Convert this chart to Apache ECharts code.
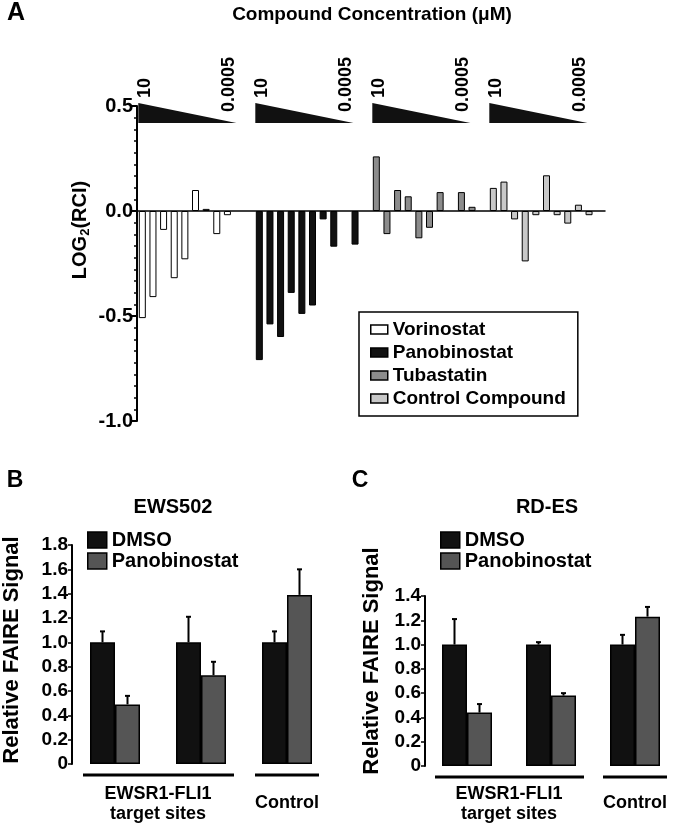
<!DOCTYPE html>
<html>
<head>
<meta charset="utf-8">
<script src="https://cdn.jsdelivr.net/npm/echarts@6/dist/echarts.min.js"></script>
<style>
  html, body { margin: 0; padding: 0; background: #fff; }
  #main { width: 677px; height: 829px; }
</style>
</head>
<body>
<div id="main"></div>
<script>
// ---- panel A: LOG2(RCI), 10 doses per compound (10 uM down to 0.0005 uM, 3-fold steps)
var doses = ['10', '3.3', '1.1', '0.37', '0.12', '0.041', '0.014', '0.0046', '0.0015', '0.0005'];
var compounds = ['Vorinostat', 'Panobinostat', 'Tubastatin', 'Control Compound'];
var vorinostat = [-0.51, -0.41, -0.09, -0.32, -0.23, 0.10, 0.01, -0.11, -0.02, null];
var panobinostat = [-0.71, -0.54, -0.60, -0.39, -0.49, -0.45, -0.04, -0.17, null, -0.16];
var tubastatin = [0.26, -0.11, 0.10, 0.07, -0.13, -0.08, 0.09, null, 0.09, 0.02];
var controlCompound = [0.11, 0.14, -0.04, -0.24, -0.02, 0.17, -0.02, -0.06, 0.03, -0.02];
var ticksA = ['-1.0', '-0.5', '0.0', '0.5'];

// ---- panels B and C: relative FAIRE signal
var sites = ['EWSR1-FLI1 site 1', 'EWSR1-FLI1 site 2', 'Control'];
var dmsoB = [1.0, 1.0, 1.0];
var dmsoErrB = [0.09, 0.21, 0.09];
var panoB = [0.49, 0.73, 1.39];
var panoErrB = [0.07, 0.11, 0.21];
var ticksB = ['0', '0.2', '0.4', '0.6', '0.8', '1.0', '1.2', '1.4', '1.6', '1.8'];

var dmsoC = [1.0, 1.0, 1.0];
var dmsoErrC = [0.21, 0.02, 0.08];
var panoC = [0.44, 0.58, 1.23];
var panoErrC = [0.07, 0.02, 0.08];
var ticksC = ['0', '0.2', '0.4', '0.6', '0.8', '1.0', '1.2', '1.4'];

var FONT = 'Liberation Sans';
var colorsA = ['#ffffff', '#111111', '#8c8c8c', '#c8c8c8'];
var DMSO_COLOR = '#111111';
var PANO_COLOR = '#555555';
var SLOTS = 11; // 10 doses + 1 gap per compound

var myChart = echarts.init(document.getElementById('main'));

// categories of panel A
var catsA = [];
compounds.forEach(function (c) {
    doses.forEach(function (d) { catsA.push(c + ' ' + d); });
    catsA.push(c + ' gap');
});

var valuesA = [vorinostat, panobinostat, tubastatin, controlCompound];
var seriesA = compounds.map(function (name, g) {
    var data = [];
    for (var i = 0; i < catsA.length; i++) data.push(null);
    valuesA[g].forEach(function (v, k) { data[g * SLOTS + k] = v; });
    return {
        name: name,
        type: 'bar',
        xAxisIndex: 0,
        yAxisIndex: 0,
        barWidth: 7,
        barGap: '-100%',
        data: data,
        itemStyle: { color: colorsA[g], borderColor: '#000', borderWidth: 1 }
    };
});

function errRender(offset) {
    return function (params, api) {
        var base = api.coord([api.value(0), api.value(1)]);
        var top = api.coord([api.value(0), api.value(1) + api.value(2)]);
        var x = base[0] + offset;
        return {
            type: 'group',
            children: [
                { type: 'line', shape: { x1: x, y1: base[1], x2: x, y2: top[1] }, style: { stroke: '#000', lineWidth: 2 } },
                { type: 'line', shape: { x1: x - 2.5, y1: top[1], x2: x + 2.5, y2: top[1] }, style: { stroke: '#000', lineWidth: 2 } }
            ]
        };
    };
}

function errData(vals, errs) {
    return vals.map(function (v, i) { return [i, v, errs[i]]; });
}

var BW = 25;
function panelSeries(idx, dmso, dmsoErr, pano, panoErr) {
    return [
        { name: 'DMSO', type: 'bar', xAxisIndex: idx, yAxisIndex: idx, barWidth: BW, barGap: '0%', data: dmso,
          itemStyle: { color: DMSO_COLOR, borderColor: '#000', borderWidth: 1.5 } },
        { name: 'Panobinostat', type: 'bar', xAxisIndex: idx, yAxisIndex: idx, barWidth: BW, barGap: '0%', data: pano,
          itemStyle: { color: PANO_COLOR, borderColor: '#000', borderWidth: 1.5 } },
        { type: 'custom', xAxisIndex: idx, yAxisIndex: idx, renderItem: errRender(-BW / 2), data: errData(dmso, dmsoErr), z: 5, encode: { x: 0, y: 1 } },
        { type: 'custom', xAxisIndex: idx, yAxisIndex: idx, renderItem: errRender(BW / 2), data: errData(pano, panoErr), z: 5, encode: { x: 0, y: 1 } }
    ];
}

function yAxisBC(idx, max, ticks) {
    return {
        gridIndex: idx, type: 'value', min: 0, max: max, interval: 0.2,
        axisLine: { show: true, lineStyle: { color: '#000', width: 2 } },
        axisTick: { show: true, length: 4, lineStyle: { color: '#000', width: 1.5 } },
        splitLine: { show: false },
        axisLabel: { fontSize: 19, fontWeight: 'bold', fontFamily: FONT, color: '#000', margin: 4,
                     formatter: function (v, i) { return ticks[i]; } }
    };
}

var legendText = { fontSize: 19, fontWeight: 'bold', fontFamily: FONT, color: '#000' };
function legendBC(left, top) {
    return {
        left: left, top: top, orient: 'vertical', selectedMode: false,
        itemWidth: 19, itemHeight: 16, itemGap: 1, padding: 0,
        textStyle: { fontSize: 20, fontWeight: 'bold', fontFamily: FONT, color: '#000' },
        data: [
            { name: 'DMSO', icon: 'rect', itemStyle: { color: DMSO_COLOR, borderColor: '#000', borderWidth: 1.5 } },
            { name: 'Panobinostat', icon: 'rect', itemStyle: { color: PANO_COLOR, borderColor: '#000', borderWidth: 1.5 } }
        ]
    };
}

var option = {
    animation: false,
    textStyle: { fontFamily: FONT },
    grid: [
        { left: 137, top: 106, width: 468, height: 315 },
        { left: 72, top: 545, width: 258, height: 219 },
        { left: 425, top: 596, width: 255, height: 170 }
    ],
    legend: [
        {
            left: 359, top: 312, orient: 'vertical', selectedMode: false,
            borderColor: '#000', borderWidth: 1.5, padding: [8, 12, 8, 11],
            itemWidth: 17, itemHeight: 9, itemGap: 4,
            textStyle: legendText,
            data: compounds.map(function (name, g) {
                return { name: name, icon: 'rect', itemStyle: { color: colorsA[g], borderColor: '#000', borderWidth: 1.5 } };
            })
        },
        legendBC(87, 530),
        legendBC(440, 530)
    ],
    xAxis: [
        { gridIndex: 0, type: 'category', data: catsA,
          axisLine: { show: true, onZero: true, lineStyle: { color: '#000', width: 1.5 } },
          axisTick: { show: false }, axisLabel: { show: false }, splitLine: { show: false } },
        { gridIndex: 1, type: 'category', data: sites, axisLine: { show: false }, axisTick: { show: false }, axisLabel: { show: false } },
        { gridIndex: 2, type: 'category', data: sites, axisLine: { show: false }, axisTick: { show: false }, axisLabel: { show: false } }
    ],
    yAxis: [
        { gridIndex: 0, type: 'value', min: -1, max: 0.5, interval: 0.5,
          axisLine: { show: true, lineStyle: { color: '#000', width: 2 } },
          axisTick: { show: true, length: 5, lineStyle: { color: '#000', width: 2 } },
          minorTick: { show: true, splitNumber: 9, length: 3, lineStyle: { color: '#000', width: 1.5 } },
          splitLine: { show: false },
          axisLabel: { fontSize: 20, fontWeight: 'bold', fontFamily: FONT, color: '#000', margin: 4,
                       formatter: function (v, i) { return ticksA[i]; } } },
        yAxisBC(1, 1.8, ticksB),
        yAxisBC(2, 1.4, ticksC)
    ],
    series: seriesA
        .concat(panelSeries(1, dmsoB, dmsoErrB, panoB, panoErrB))
        .concat(panelSeries(2, dmsoC, dmsoErrC, panoC, panoErrC))
};
myChart.setOption(option);

// ---- annotations that hang off the axes
function txt(x, y, text, size, extra) {
    var o = { type: 'text', x: x, y: y, z: 10, style: { text: text, fontSize: size, fontWeight: 'bold', fontFamily: FONT, fill: '#000', align: 'center', verticalAlign: 'middle' } };
    for (var k in extra) {
        if (k === 'style') { for (var s in extra.style) o.style[s] = extra.style[s]; }
        else o[k] = extra[k];
    }
    return o;
}

var g = [];
var topA = myChart.convertToPixel({ gridIndex: 0 }, [0, 0.5])[1] - 3;
compounds.forEach(function (c, k) {
    var left = myChart.convertToPixel({ gridIndex: 0 }, [k * SLOTS, 0])[0] - 4;
    var right = myChart.convertToPixel({ gridIndex: 0 }, [k * SLOTS + 8, 0])[0] + 9;
    g.push({ type: 'polygon', z: 10, shape: { points: [[left, topA], [left, topA + 20], [right, topA + 20]] }, style: { fill: '#111' } });
    g.push(txt(left + 7, topA - 5, doses[0], 18, { rotation: Math.PI / 2, style: { align: 'left' } }));
    g.push(txt(right - 7, topA + 9, doses[doses.length - 1], 18, { rotation: Math.PI / 2, style: { align: 'left' } }));
});

g.push(txt(16, 13, 'A', 25, {}));
g.push(txt(372, 15, 'Compound Concentration (\u03bcM)', 19, {}));
g.push(txt(80, 230, 'LOG{s|2}(RCI)', 20, { rotation: Math.PI / 2, style: { rich: { s: { fontSize: 13, fontWeight: 'bold', fontFamily: FONT, padding: [10, 0, 0, 0] } } } }));

g.push(txt(15, 481, 'B', 23, {}));
g.push(txt(360, 481, 'C', 23, {}));
g.push(txt(173, 507, 'EWS502', 20, {}));
g.push(txt(547, 507, 'RD-ES', 20, {}));
g.push(txt(12, 650, 'Relative FAIRE Signal', 22, { rotation: Math.PI / 2 }));
g.push(txt(372, 661, 'Relative FAIRE Signal', 22, { rotation: Math.PI / 2 }));

[1, 2].forEach(function (gi) {
    var c0 = myChart.convertToPixel({ gridIndex: gi }, [0, 0]);
    var c1 = myChart.convertToPixel({ gridIndex: gi }, [1, 0]);
    var c2 = myChart.convertToPixel({ gridIndex: gi }, [2, 0]);
    var ly = c0[1] + 11;
    g.push({ type: 'line', z: 10, shape: { x1: c0[0] - 32, y1: ly, x2: c1[0] + 33, y2: ly }, style: { stroke: '#000', lineWidth: 3 } });
    g.push({ type: 'line', z: 10, shape: { x1: c2[0] - 32, y1: ly, x2: c2[0] + 32, y2: ly }, style: { stroke: '#000', lineWidth: 3 } });
    var mid = (c0[0] + c1[0]) / 2;
    g.push(txt(mid, 794, 'EWSR1-FLI1', 18, {}));
    g.push(txt(mid, 814, 'target sites', 18, {}));
    g.push(txt(c2[0], 803, 'Control', 18, {}));
});

myChart.setOption({ graphic: g });
window.addEventListener('resize', myChart.resize);
</script>
</body>
</html>
